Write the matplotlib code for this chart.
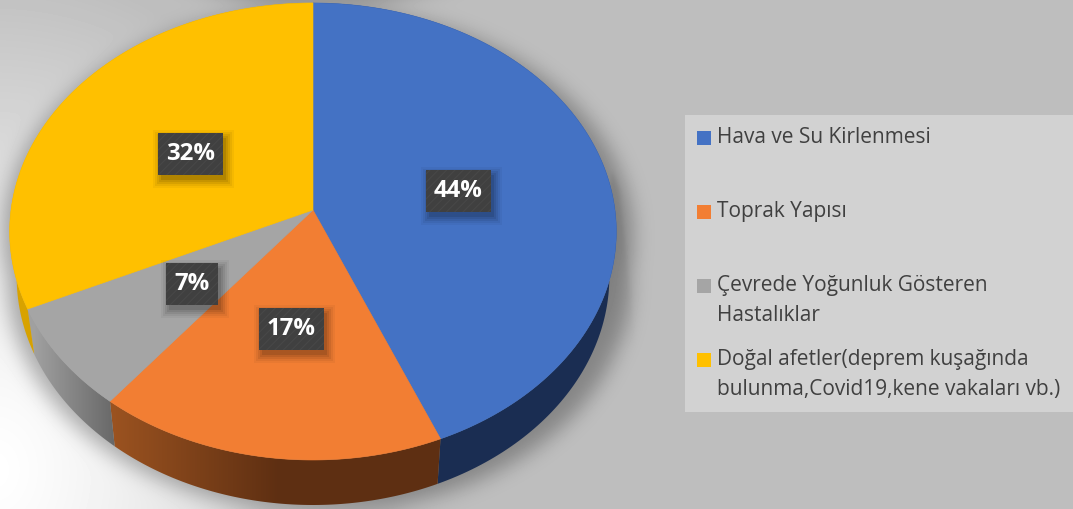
import numpy as np
import matplotlib
matplotlib.use("Agg")
import matplotlib.pyplot as plt
from matplotlib.patches import Polygon, Rectangle
from matplotlib.path import Path
from matplotlib.colors import LinearSegmentedColormap

plt.rcParams['font.family'] = ['Open Sans', 'DejaVu Sans']

categories = ["Hava ve Su Kirlenmesi", "Toprak Yapısı",
              "Çevrede Yoğunluk Gösteren\nHastalıklar",
              "Doğal afetler(deprem kuşağında\nbulunma,Covid19,kene vakaları vb.)"]
values = [43.7, 17.0, 7.4, 31.9]
top_colors = ["#4472C4", "#F27E33", "#A5A5A5", "#FFC000"]
side_left = ["#1A2D52", "#9A5220", "#A0A0A0", "#D9A300"]
side_right = ["#1A2D52", "#5E2F12", "#686868", "#B88A00"]

W, H = 1073, 509
CX, CY = 313.0, 210.0
FX, FY, K = 302.0, 226.5, 0.094
DEPTH, SHRINK = 45.0, 0.977


def project(x, y):
    w = 1 + K * y
    return CX + FX * x / w, CY - FY * y / w


def rim(a0, a1, n=160):
    t = np.radians(np.linspace(a0, a1, n))
    return project(np.sin(t), np.cos(t))


def lower(x, y):
    return CX + (x - CX) * SHRINK, y + DEPTH


def blur(a, s):
    fy = np.fft.fftfreq(a.shape[0])[:, None]
    fx = np.fft.rfftfreq(a.shape[1])[None, :]
    g = np.exp(-2 * (np.pi * s) ** 2 * (fx ** 2 + fy ** 2))
    return np.fft.irfft2(np.fft.rfft2(a) * g, s=a.shape)


fig = plt.figure(figsize=(W / 100, H / 100), dpi=100)
ax = fig.add_axes([0, 0, 1, 1])
ax.set_xlim(0, W)
ax.set_ylim(H, 0)
ax.axis("off")

# background and soft drop shadow
gx, gy = np.meshgrid(np.arange(W) + .5, np.arange(H) + .5)
d = np.hypot((gx + 5) * 1.25, gy - 470) / 500
bg = 190 + 65 * (1 - np.clip(d, 0, 1) ** 1.25)
xr, yr = rim(0, 360, 500)
xl, yl = lower(xr, yr)
pts = np.c_[gx.ravel(), gy.ravel()]
m1 = Path(np.c_[CX + (xl - CX) * 1.05 + 6, yl + 7]).contains_points(pts).reshape(gx.shape).astype(float)
m2 = Path(np.c_[CX + (xr - CX) * 1.04 + 5, yr + 6]).contains_points(pts).reshape(gx.shape).astype(float)
mask = blur(np.maximum(m1, m2), 10)
streak = blur(Path([(612, 170), (620, 190), (636, 350), (590, 350)]).contains_points(pts)
              .reshape(gx.shape).astype(float), 2)
streak = streak * np.clip((350 - gy) / 110, 0, 1)
bg = bg * (1 - 0.30 * np.clip(mask, 0, 1)) * (1 - 0.07 * np.clip(streak, 0, 1))
ax.imshow(bg, cmap="gray", vmin=0, vmax=255, extent=(0, W, H, 0), aspect="auto",
          interpolation="bilinear", zorder=0)

# pie
starts = np.cumsum([0] + values[:-1]) * 3.6
ends = np.cumsum(values) * 3.6
for i in np.argsort([-abs(180 - (a + b) / 2) for a, b in zip(starts, ends)]):
    x, y = rim(starts[i], ends[i])
    bx, by = lower(x, y)
    poly = Polygon(np.c_[np.r_[x, bx[::-1]], np.r_[y, by[::-1]]], closed=True,
                   fc="none", ec="none", zorder=1 + 0.01 * i)
    ax.add_patch(poly)
    cmap = LinearSegmentedColormap.from_list("s", [side_left[i], side_right[i]])
    x0, x1 = (bx.min(), bx.max())
    if i == 1:
        x1 = x0 + 165
    ramp = np.clip((np.linspace(0, W, 1073)[None, :] - x0) / max(x1 - x0, 1), 0, 1)
    im = ax.imshow(ramp, cmap=cmap, vmin=0, vmax=1, extent=(0, W, H, 0), aspect="auto",
                   zorder=1 + 0.01 * i)
    im.set_clip_path(poly)

for i in range(len(values)):
    x, y = rim(starts[i], ends[i])
    ax.add_patch(Polygon(np.c_[np.r_[CX, x], np.r_[CY, y]], closed=True,
                         fc=top_colors[i], ec=top_colors[i], lw=0.4, zorder=2))

# data labels
fig.canvas.draw()
rend = fig.canvas.get_renderer()
plt.rcParams['hatch.linewidth'] = 0.8
for v, a0, a1 in zip(values, starts, ends):
    t = np.radians((a0 + a1) / 2)
    lx, ly = project(0.495 * np.sin(t), 0.495 * np.cos(t))
    ly += 3
    txt = ax.text(lx, ly, f"{round(v)}%", color="white", fontweight="bold", fontsize=17.3,
                  ha="center", va="center", zorder=6)
    bb = txt.get_window_extent(rend)
    bw = bb.width + 16
    bh = 42
    for grow, alpha in ((8, .04), (6, .05), (4, .07), (2, .08), (0, .1)):
        ax.add_patch(Rectangle((lx - bw / 2 + 3 - grow, ly - bh / 2 + 5 - grow),
                               bw + 2 * grow, bh + 2 * grow, fc="black", ec="none",
                               alpha=alpha, zorder=4))
    ax.add_patch(Rectangle((lx - bw / 2, ly - bh / 2), bw, bh, fc="#404040",
                           ec="#484848", lw=0, hatch="////", zorder=5))

# legend
ax.add_patch(Rectangle((685, 115), W - 685, 297, fc="#D2D2D2", ec="none", zorder=3))
for lab, col, yc in zip(categories, top_colors, np.arange(4) * 74 + 138):
    ax.add_patch(Rectangle((697, yc - 7), 14, 14, fc=col, ec="none", zorder=4))
    ax.text(717, yc - 11, lab, color="#404040", fontsize=15, ha="left", va="top",
            linespacing=1.54, zorder=4)

fig.savefig("out.png", dpi=100)
